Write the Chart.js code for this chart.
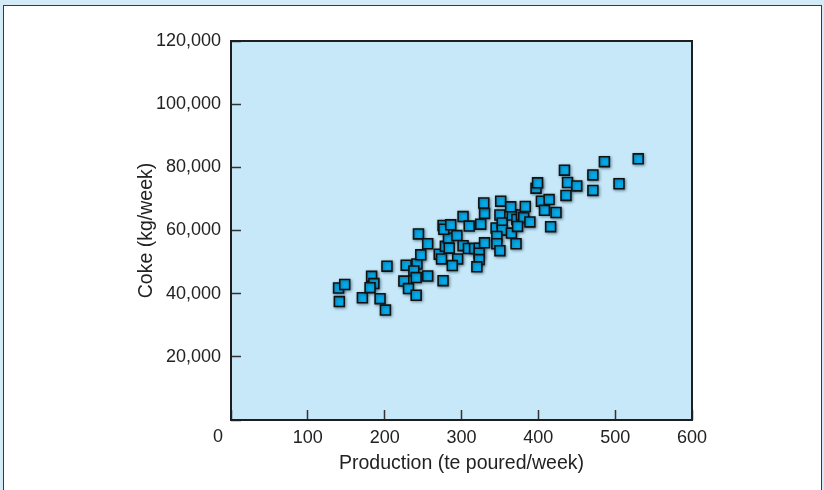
<!DOCTYPE html>
<html>
<head>
<meta charset="utf-8">
<script src="https://cdn.jsdelivr.net/npm/chart.js@4/dist/chart.umd.min.js"></script>
<style>
  html, body { margin: 0; padding: 0; }
  body { width: 824px; height: 490px; background: #d3ebf7; position: relative; overflow: hidden; }
  #panel { position: absolute; left: 3px; top: 5px; width: 817px; height: 492px;
           background: #ffffff; border: 1.5px solid #3a3a3a; }
  #chart { position: absolute; left: 0; top: 0; }
</style>
</head>
<body>
<div id="panel"></div>
<canvas id="chart" width="824" height="490"></canvas>
<script>
// Weekly iron production (tonnes poured) against coke consumption (kg)
const production = [
  140, 148, 141, 171, 183, 186, 181, 194, 201, 203,
  228, 242, 238, 241, 225, 231, 241, 256, 276, 244,
  256, 247, 271, 274, 279, 283, 284, 276, 277, 286,
  294, 295, 288, 302, 310, 302, 309, 317, 323, 323,
  323, 320, 325, 330, 330, 345, 350, 353, 353, 346,
  346, 350, 365, 371, 366, 329, 351, 364, 372, 378,
  381, 383, 373, 389, 397, 399, 404, 414, 408, 423,
  416, 434, 438, 450, 436, 471, 471, 486, 505, 530
];
const coke = [
  41800, 42900, 37500, 38700, 45500, 43200, 41900, 38400, 34800, 48700,
  49000, 49400, 47200, 45100, 44000, 41600, 39500, 45600, 44100, 58900,
  55800, 52300, 52500, 51000, 55000, 57600, 54400, 61600, 60400, 61800,
  58400, 51000, 48900, 64400, 61400, 55200, 54300, 54300, 54400, 52800,
  50800, 48500, 62000, 56100, 65400, 60800, 64900, 62400, 60100, 58100,
  55800, 53600, 59200, 55800, 64900, 68700, 69300, 67500, 63500, 64900,
  64100, 67600, 61300, 62700, 73400, 75100, 69300, 69800, 66400, 65700,
  61200, 79100, 75200, 74100, 71100, 77600, 72700, 81800, 74800, 82700
];
const xTicks = [0, 100, 200, 300, 400, 500, 600];
const yTicks = [0, 20000, 40000, 60000, 80000, 100000, 120000];
const xTitle = 'Production (te poured/week)';
const yTitle = 'Coke (kg/week)';

const points = production.map((p, i) => ({ x: p, y: coke[i] }));

const textColor = '#222222';
const fontFamily = '"Liberation Sans", Arial, Helvetica, sans-serif';
const tickFontSize = 18;
const titleFontSize = 19.5;

const plotFrame = {
  id: 'plotFrame',
  beforeDraw(chart) {
    const { ctx, chartArea: a } = chart;
    ctx.save();
    ctx.fillStyle = '#c7e8f8';
    ctx.fillRect(a.left, a.top, a.right - a.left, a.bottom - a.top);
    ctx.restore();
  },
  beforeDatasetsDraw(chart) {
    const ctx = chart.ctx;
    ctx.shadowColor = 'rgba(20, 60, 80, 0.55)';
    ctx.shadowBlur = 3;
    ctx.shadowOffsetX = 1;
    ctx.shadowOffsetY = 1;
  },
  afterDatasetsDraw(chart) {
    const ctx = chart.ctx;
    ctx.shadowColor = 'rgba(0,0,0,0)';
    ctx.shadowBlur = 0;
    ctx.shadowOffsetX = 0;
    ctx.shadowOffsetY = 0;
  },
  afterDraw(chart) {
    const { ctx, chartArea: a } = chart;
    ctx.save();
    ctx.strokeStyle = '#1e1e1e';
    ctx.lineWidth = 2;
    ctx.strokeRect(a.left, a.top, a.right - a.left, a.bottom - a.top);
    // shared origin label at the lower-left corner
    ctx.fillStyle = textColor;
    ctx.font = tickFontSize + 'px ' + fontFamily;
    ctx.textAlign = 'right';
    ctx.textBaseline = 'middle';
    ctx.fillText('0', a.left - 8, a.bottom + 17);
    ctx.restore();
  }
};

new Chart(document.getElementById('chart'), {
  type: 'scatter',
  data: {
    datasets: [{
      data: points,
      pointStyle: 'rect',
      pointRadius: 7,
      pointBackgroundColor: '#05abea',
      pointBorderColor: '#111111',
      pointBorderWidth: 1.6
    }]
  },
  options: {
    responsive: false,
    animation: false,
    devicePixelRatio: 1,
    layout: { padding: { left: 0, top: 41, right: 132, bottom: 0 } },
    plugins: { legend: { display: false }, tooltip: { enabled: false } },
    scales: {
      x: {
        type: 'linear',
        min: 0, max: 600,
        afterBuildTicks(scale) { scale.ticks = xTicks.map(v => ({ value: v })); },
        afterFit(scale) { scale.height = 70; },
        border: { display: false },
        grid: { drawOnChartArea: false, drawTicks: true, tickLength: -10, tickColor: '#333333', tickWidth: 1.5 },
        ticks: {
          padding: 17,
          color: textColor,
          font: { family: fontFamily, size: tickFontSize },
          maxRotation: 0,
          callback: v => (v === 0 ? '' : String(v))
        },
        title: {
          display: true, text: xTitle, color: textColor,
          font: { family: fontFamily, size: titleFontSize },
          padding: { top: 0, bottom: 15 }
        }
      },
      y: {
        type: 'linear',
        min: 0, max: 120000,
        afterBuildTicks(scale) { scale.ticks = yTicks.map(v => ({ value: v })); },
        afterFit(scale) { scale.width = 231; },
        border: { display: false },
        grid: { drawOnChartArea: false, drawTicks: true, tickLength: -10, tickColor: '#333333', tickWidth: 1.5 },
        ticks: {
          padding: 20,
          color: textColor,
          font: { family: fontFamily, size: tickFontSize },
          callback: v => (v === 0 ? '' : v.toLocaleString('en-US'))
        },
        title: {
          display: true, text: yTitle, color: textColor,
          font: { family: fontFamily, size: titleFontSize },
          padding: { top: 135, bottom: 0 }
        }
      }
    }
  },
  plugins: [plotFrame]
});
</script>
</body>
</html>
